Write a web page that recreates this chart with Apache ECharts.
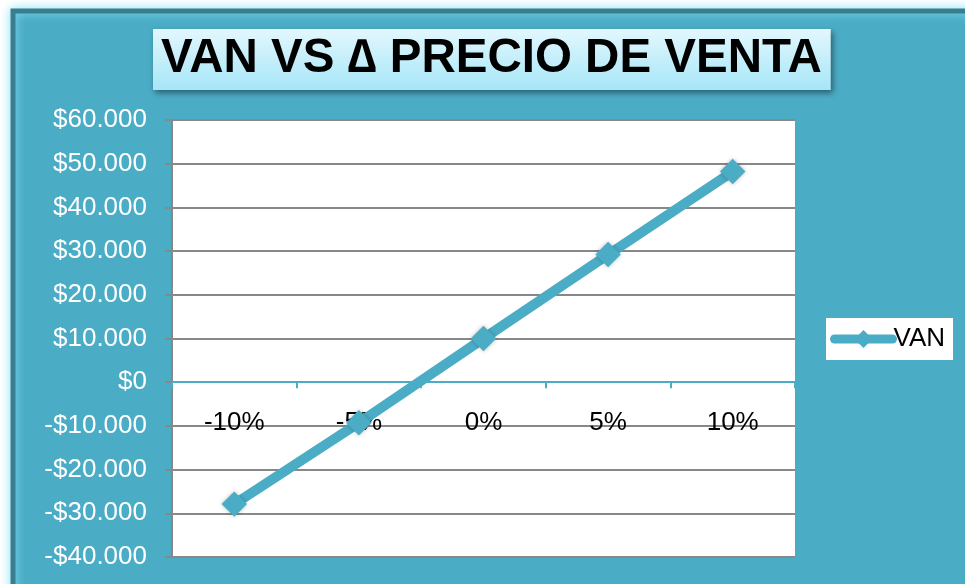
<!DOCTYPE html>
<html>
<head>
<meta charset="utf-8">
<script src="https://cdn.jsdelivr.net/npm/echarts@6/dist/echarts.min.js"></script>
<style>
html,body{margin:0;padding:0;background:#fff;}
#c{width:965px;height:584px;}
</style>
</head>
<body>
<div id="c"></div>
<script>
const categories = ['-10%', '-5%', '0%', '5%', '10%'];
const vanValues = [-27900, -9300, 10000, 29200, 48200];
const seriesName = 'VAN';
const titleText = 'VAN VS \u2206 PRECIO DE VENTA';
const yMin = -40000, yMax = 60000, yStep = 10000;

function fmt(v) {
  if (v === 0) return '$0';
  const a = Math.abs(v).toString().replace(/\B(?=(\d{3})+(?!\d))/g, '.');
  return (v < 0 ? '-' : '') + '$' + a;
}

const chart = echarts.init(document.getElementById('c'), null, {renderer: 'canvas'});
const teal = '#4BACC6';
const gridTop = 120, gridBottom = 27, H = 584;
const plotH = H - gridTop - gridBottom;
const zeroOffset = -plotH * (0 - yMin) / (yMax - yMin);
chart.setOption({
  backgroundColor: '#ffffff',
  textStyle: {fontFamily: 'Liberation Sans, Arial, sans-serif'},
  graphic: [
    {
      type: 'rect', z: -10, silent: true,
      shape: {x: 13, y: 11, width: 980, height: 600},
      style: {fill: teal, stroke: '#3A7D8F', lineWidth: 5, shadowBlur: 10, shadowColor: 'rgba(140,230,250,0.95)'}
    }
  ],
  title: {
    text: titleText,
    left: 153, top: 29,
    padding: [4, 9, 5, 8],
    backgroundColor: {
      type: 'linear', x: 0, y: 0, x2: 0, y2: 1,
      colorStops: [{offset: 0, color: '#E3F7FD'}, {offset: 1, color: '#A6E6F8'}]
    },
    shadowBlur: 6, shadowColor: 'rgba(0,0,0,0.45)', shadowOffsetX: 2, shadowOffsetY: 3,
    textStyle: {fontSize: 47.5, lineHeight: 52, fontWeight: 'bold', color: '#000', fontFamily: 'Liberation Sans, Arial, sans-serif'}
  },
  legend: {
    data: [seriesName],
    left: 826, top: 318,
    backgroundColor: '#fff',
    padding: [8, 8, 8, 4],
    itemWidth: 58, itemHeight: 16, itemGap: 0,
    lineStyle: {width: 9, cap: 'round'},
    textStyle: {fontSize: 26, color: '#000', padding: [0, 0, 0, -4]}
  },
  grid: {left: 172, right: 170, top: gridTop, bottom: gridBottom, outerBoundsMode: 'none', containLabel: false, backgroundColor: '#fff', show: true, borderWidth: 0},
  xAxis: {
    type: 'category', data: categories, boundaryGap: true,
    position: 'bottom', offset: zeroOffset,
    axisLine: {onZero: false, lineStyle: {color: teal, width: 2}},
    axisTick: {show: true, inside: false, length: 6, lineStyle: {color: teal, width: 2}},
    axisLabel: {color: '#000', fontSize: 26, margin: 28},
    splitLine: {show: false}
  },
  yAxis: {
    type: 'value', min: yMin, max: yMax, interval: yStep,
    axisLine: {show: true, lineStyle: {color: '#888', width: 2}},
    axisTick: {show: true, length: 7, lineStyle: {color: '#888', width: 2}},
    axisLabel: {color: '#fff', fontSize: 26, margin: 25, formatter: fmt},
    splitLine: {show: true, lineStyle: {color: '#888', width: 2}}
  },
  series: [{
    name: seriesName, type: 'line', data: vanValues,
    symbol: 'rect', symbolSize: 18, symbolRotate: 45,
    lineStyle: {color: teal, width: 10},
    itemStyle: {color: teal, shadowBlur: 4, shadowColor: 'rgba(0,0,0,0.25)'},
    animation: false
  }],
  animation: false
});
</script>
</body>
</html>
